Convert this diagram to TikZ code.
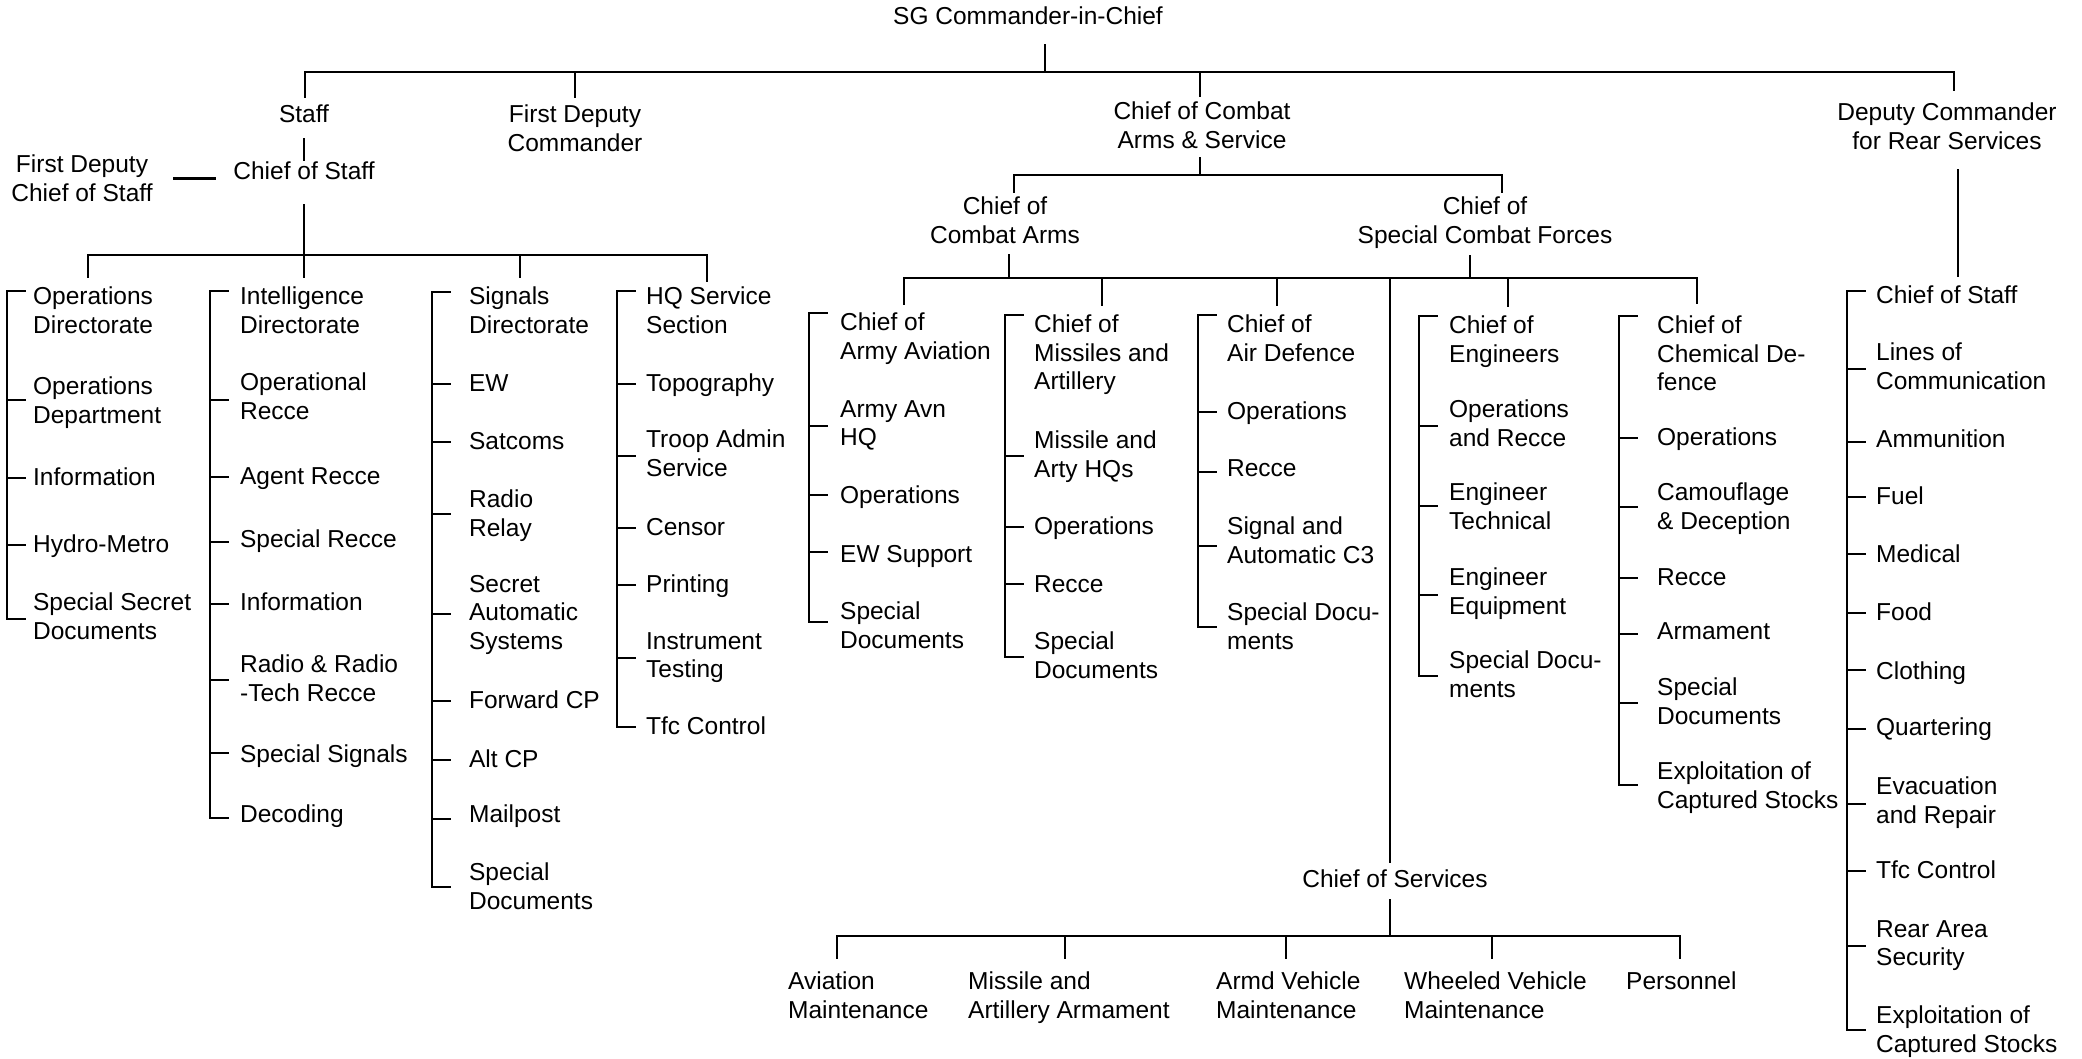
\documentclass[tikz,border=0pt]{standalone}
\usepackage{fontspec}
\setmainfont{Liberation Sans}
\usepackage{tikz}
\usetikzlibrary{positioning}

\tikzset{
  post/.style={inner sep=0pt, align=center, anchor=north},
  item/.style={inner sep=0pt, align=left, anchor=north west}
}
% one bracketed column: name, bracket x, text x, top tick, bottom tick, text/centre/tick list
\newcommand{\subcol}[6]{%
  \draw (#2+18,#4) -- (#2,#4) -- (#2,#5) -- (#2+18,#5);
  \foreach \txt/\yc/\tk [count=\n] in {#6} {
    \node[item] (#1-\n) at (#3,\yc-11) {\txt};
    \draw (#2,\tk) -- ++(18,0);
  }%
}

\begin{document}
\begin{tikzpicture}[x=1pt,y=-1pt,line width=2.3pt,line cap=rect,font=\fontsize{24.5}{28.5}\selectfont]
  \useasboundingbox (0,0) rectangle (2082,1058);

  % Command level
  \node[post] (sg) at (1028,6) {SG Commander-in-Chief};
  \node[post] (staff) at (304,104) {Staff};
  \node[post] (fdc) at (575,104) {First Deputy\\Commander};
  \node[post] (ccas) at (1202,101) {Chief of Combat\\Arms \& Service};
  \node[post] (dc) at (1947,102) {Deputy Commander\\for Rear Services};
  \coordinate (tL) at (305,72);
  \coordinate (tR) at (1954,72);
  \coordinate (tSG) at (1045,72);
  \coordinate (tFDC) at (575,72);
  \coordinate (tCC) at (1200,72);
  \draw (tL) -- (tR);
  \draw[shorten <=18.5pt] (sg.south -| tSG) -- (tSG);
  \draw[shorten >=7pt] (tL) -- (tL |- staff.north);
  \draw[shorten >=7pt] (tFDC) -- (tFDC |- fdc.north);
  \draw[shorten >=5pt] (tCC) -- (tCC |- ccas.north);
  \draw[shorten >=12pt] (tR) -- (tR |- dc.north);

  % Staff branch
  \node[post] (cos) at (304,161) {Chief of Staff};
  \node[post] (fdcos) at (82,154) {First Deputy\\Chief of Staff};
  \draw[shorten <=14.5pt, shorten >=1pt] (staff.south) -- (cos.north);
  \draw[shorten <=20pt, shorten >=17pt] (fdcos.east) -- (fdcos.east -| cos.west);
  \coordinate (sL) at (88,255);
  \coordinate (sR) at (707,255);
  \coordinate (sC) at (304,277);
  \draw[shorten <=23.5pt] (cos.south) -- (sC);
  \draw (sL) ++(0,22) -- (sL) -- (sR) -- ++(0,26);
  \draw (sL -| 520,0) -- ++(0,22);

  \subcol{ops}{7}{32}{291}{619}{Operations\\Directorate/297/291, Operations\\Department/387/400,
    Information/478/478, Hydro-Metro/545/545, Special Secret\\Documents/603/619}
  \subcol{int}{210}{239}{291}{818}{Intelligence\\Directorate/297/291, Operational\\Recce/383/400,
    Agent Recce/477/477, Special Recce/540/542, Information/603/604,
    Radio \& Radio\\-Tech Recce/665/680, Special Signals/755/753, Decoding/815/818}
  \subcol{sig}{432}{468}{292}{887}{Signals\\Directorate/297/292, EW/384/384, Satcoms/442/442,
    Radio\\Relay/500/514, Secret\\Automatic\\Systems/585/614, Forward CP/701/701,
    Alt CP/760/760, Mailpost/815/819, Special\\Documents/873/887}
  \subcol{hqs}{617}{645}{291}{727}{HQ Service\\Section/297/291, Topography/384/384,
    Troop Admin\\Service/440/456, Censor/528/528, Printing/585/585,
    Instrument\\Testing/642/658, Tfc Control/727/727}

  % Combat arms branch
  \node[post] (cca) at (1005,196) {Chief of\\Combat Arms};
  \node[post] (scf) at (1485,196) {Chief of\\Special Combat Forces};
  \coordinate (cA) at (1200,175);
  \coordinate (cL) at (1014,175);
  \coordinate (cR) at (1502,175);
  \draw[shorten <=8pt] (ccas.south -| cA) -- (cA);
  \draw (cL) -- (cR);
  \draw[shorten >=4pt] (cL) -- (cL |- cca.north);
  \draw[shorten >=4pt] (cR) -- (cR |- scf.north);
  \coordinate (kL) at (904,278);
  \coordinate (kR) at (1697,278);
  \coordinate (kA) at (1009,278);
  \coordinate (kS) at (1470,278);
  \coordinate (kV) at (1390,278);
  \draw[shorten <=10pt] (cca.south -| kA) -- (kA);
  \draw[shorten <=7pt] (scf.south -| kS) -- (kS);
  \draw (kL) ++(0,26) -- (kL) -- (kR) -- ++(0,25);
  \foreach \x/\l in {1102/27, 1277/27, 1508/28} \draw (kL -| \x,0) -- ++(0,\l);

  \subcol{avn}{809}{839}{313}{622}{Chief of\\Army Aviation/323/313, Army Avn\\HQ/410/426,
    Operations/496/495, EW Support/555/552, Special\\Documents/612/622}
  \subcol{msl}{1005}{1033}{315}{657}{Chief of\\Missiles and\\Artillery/325/315,
    Missile and\\Arty HQs/441/456, Operations/527/527, Recce/585/584, Special\\Documents/642/657}
  \subcol{adf}{1198}{1226}{315}{627}{Chief of\\Air Defence/325/315, Operations/412/412,
    Recce/469/472, Signal and\\Automatic C3/527/546, Special Docu-\\ments/613/627}
  \subcol{eng}{1419}{1448}{316}{676}{Chief of\\Engineers/326/316, Operations\\and Recce/410/426,
    Engineer\\Technical/493/506, Engineer\\Equipment/578/595, Special Docu-\\ments/661/676}
  \subcol{chm}{1619}{1656}{316}{785}{Chief of\\Chemical De-\\fence/326/316, Operations/438/438,
    Camouflage\\\& Deception/493/507, Recce/578/578, Armament/632/634,
    Special\\Documents/688/703, Exploitation of\\Captured Stocks/772/785}

  % Services
  \node[post] (csv) at (1395,869) {Chief of Services};
  \draw[shorten >=7pt] (kV) -- (kV |- csv.north);
  \coordinate (vL) at (837,936);
  \coordinate (vR) at (1680,936);
  \coordinate (vC) at (1390,936);
  \draw[shorten <=10.5pt] (csv.south -| vC) -- (vC);
  \draw (vL) ++(0,22) -- (vL) -- (vR) -- ++(0,22);
  \foreach \x in {1065,1286,1492} \draw (vL -| \x,0) -- ++(0,22);
  \node[item] (avm) at (787,971) {Aviation\\Maintenance};
  \node[item] (maa) at (967,971) {Missile and\\Artillery Armament};
  \node[item] (avh) at (1215,971) {Armd Vehicle\\Maintenance};
  \node[item] (wvh) at (1403,971) {Wheeled Vehicle\\Maintenance};
  \node[item] (pers) at (1625,971) {Personnel};

  % Rear services
  \coordinate (rD) at (1958,276);
  \draw[shorten <=19pt] (dc.south -| rD) -- (rD);
  \subcol{rear}{1847}{1875}{291}{1030}{Chief of Staff/296/291, Lines of\\Communication/353/369,
    Ammunition/440/442, Fuel/497/497, Medical/555/554, Food/613/613, Clothing/672/670,
    Quartering/728/729, Evacuation\\and Repair/787/804, Tfc Control/871/871,
    Rear Area\\Security/930/946, Exploitation of\\Captured Stocks/1016/1030}
\end{tikzpicture}
\end{document}
